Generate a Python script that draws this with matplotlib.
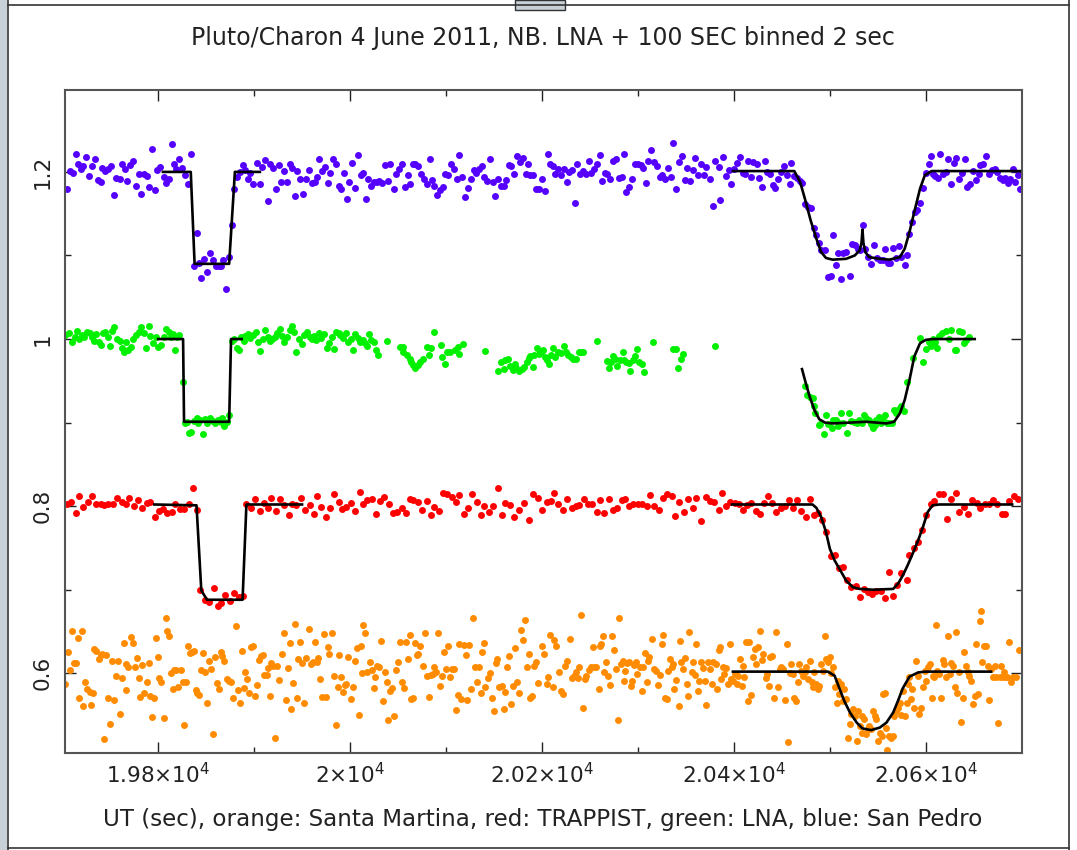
import numpy as np
import matplotlib
matplotlib.use("Agg")
import matplotlib.pyplot as plt
from matplotlib.patches import Rectangle
from matplotlib.lines import Line2D

# observed points: (UT seconds, normalised flux x 1000)
blue_obs = [
    (19705,1180),(19708,1201),(19711,1199),(19714,1221),(19717,1210),(19720,1203),(19722,1207),(19725,1218),(19728,1195),(19731,1207),
    (19734,1215),(19737,1190),(19740,1188),(19742,1205),(19745,1201),(19748,1204),(19751,1207),(19754,1172),(19756,1193),(19760,1192),
    (19762,1209),(19765,1203),(19768,1189),(19771,1208),(19774,1213),(19777,1183),(19780,1197),(19782,1174),(19785,1198),(19788,1195),
    (19791,1182),(19794,1228),(19797,1178),(19799,1202),(19802,1206),(19806,1194),(19808,1187),(19811,1191),(19814,1233),(19817,1210),
    (19819,1203),(19822,1216),(19825,1205),(19828,1196),(19831,1186),(19834,1221),
    (19837,1087),(19840,1127),(19843,1091),(19845,1073),(19848,1096),(19851,1080),(19854,1103),(19857,1095),(19860,1087),(19863,1087),
    (19866,1087),(19868,1094),(19871,1060),(19874,1098),(19877,1136),(19879,1179),(19882,1194),(19885,1200),(19888,1208),(19891,1202),
    (19894,1191),(19896,1199),(19899,1185),(19903,1211),(19906,1185),(19908,1206),(19911,1214),(19914,1165),(19917,1209),(19920,1205),
    (19923,1180),(19926,1208),(19928,1188),(19931,1201),(19934,1188),(19937,1209),(19940,1205),(19943,1171),(19945,1201),(19948,1191),
    (19951,1173),(19954,1191),(19957,1202),(19960,1187),(19963,1188),(19966,1194),(19968,1216),(19971,1201),(19974,1206),(19977,1187),
    (19979,1199),(19982,1216),(19985,1209),(19988,1183),(19991,1179),(19994,1199),(19997,1168),(19999,1188),(20002,1211),(20005,1181),
    (20008,1220),(20011,1196),(20014,1199),(20017,1167),(20019,1192),(20022,1183),(20025,1188),(20028,1188),(20030,1189),(20033,1187),
    (20036,1208),(20040,1189),
    (20042,1210),(20046,1179),(20048,1198),(20051,1203),(20054,1210),(20057,1182),(20060,1196),(20063,1185),(20066,1210),(20068,1209),
    (20071,1207),(20074,1197),(20077,1192),(20080,1186),(20083,1215),(20085,1190),(20088,1183),(20091,1172),(20094,1178),(20097,1182),
    (20099,1198),(20102,1196),(20105,1209),(20108,1204),(20111,1191),(20114,1220),(20117,1194),(20120,1170),(20123,1181),(20126,1191),
    (20129,1202),(20131,1199),(20134,1203),(20137,1207),(20140,1194),(20143,1189),(20146,1216),(20149,1188),(20151,1171),(20154,1191),
    (20157,1183),(20160,1183),(20163,1190),(20166,1208),(20168,1207),(20171,1197),(20174,1219),(20177,1212),(20180,1217),(20183,1198),
    (20185,1210),(20188,1196),(20191,1196),(20194,1180),(20197,1179),(20200,1192),(20203,1177),(20206,1222),(20208,1210),(20211,1207),
    (20214,1197),(20217,1203),(20220,1196),(20223,1203),(20226,1188),(20228,1200),(20231,1202),(20234,1163),(20237,1210),(20240,1198),
    (20243,1201),(20246,1197),(20249,1213),(20251,1199),(20254,1203),(20257,1210),(20260,1220),(20263,1189),(20266,1199),(20268,1198),
    (20271,1191),(20274,1213),(20277,1216),(20280,1193),(20283,1194),(20285,1221),(20288,1176),(20291,1182),(20294,1192),(20297,1210),
    (20300,1210),(20303,1208),(20305,1205),(20308,1187),(20311,1213),(20314,1226),(20317,1212),(20320,1207),(20323,1194),(20325,1196),
    (20328,1192),(20331,1205),(20334,1194),(20337,1234),(20340,1179),(20343,1212),(20346,1219),(20349,1190),(20351,1205),(20354,1189),
    (20357,1202),(20360,1217),(20363,1196),(20366,1209),
    (20369,1196),(20371,1206),(20375,1192),(20378,1159),(20380,1213),(20384,1206),(20386,1166),(20389,1218),(20392,1195),(20395,1202),
    (20397,1185),(20400,1204),(20403,1211),(20406,1218),(20409,1199),(20412,1198),(20415,1213),(20418,1194),(20420,1212),(20424,1210),
    (20426,1193),(20429,1182),(20432,1213),(20435,1200),(20438,1197),(20441,1184),(20443,1181),(20446,1191),(20449,1200),(20452,1207),
    (20455,1196),(20458,1186),(20460,1211),(20463,1195),(20466,1193),(20469,1189),(20471,1187),(20474,1161),(20477,1158),(20480,1157),
    (20483,1133),(20486,1124),(20489,1115),(20491,1107),(20495,1106),(20498,1074),(20501,1076),(20503,1124),(20506,1088),(20509,1103),
    (20512,1072),(20514,1103),(20517,1104),(20521,1076),(20523,1114),(20526,1112),(20529,1108),(20531,1106),(20535,1137),(20537,1108),
    (20540,1098),(20543,1090),(20546,1113),(20549,1097),(20552,1094),(20555,1094),(20558,1108),(20561,1091),(20563,1091),(20566,1109),
    (20569,1097),(20572,1111),(20574,1098),(20578,1089),(20580,1101),(20583,1126),(20586,1140),(20589,1152),(20591,1155),(20594,1163),
    (20597,1181),(20600,1199),(20603,1210),(20605,1219),(20607,1198),(20610,1195),(20613,1193),(20615,1221),(20618,1198),(20621,1200),
    (20623,1216),(20626,1185),(20629,1211),(20632,1217),(20635,1191),(20638,1199),(20641,1215),(20643,1182),(20646,1186),(20649,1201),
    (20652,1190),(20655,1198),(20657,1208),(20660,1210),(20663,1219),(20666,1198),(20669,1202),(20672,1204),(20674,1200),(20677,1193),
    (20680,1190),(20683,1193),(20686,1187),(20688,1192),(20691,1203),(20693,1188),(20696,1196),(20698,1179),
]

green_obs = [
    (19703,1005),(19707,1007),(19710,996),(19713,1002),(19715,1010),(19718,1000),(19721,1005),(19723,1002),(19726,1009),(19729,1007),
    (19731,1003),(19733,998),(19735,1006),(19738,996),(19740,993),(19743,1007),(19745,1009),(19748,1002),(19750,992),(19752,1010),
    (19754,1014),(19757,1000),(19760,998),(19762,989),(19764,985),(19767,997),(19769,987),(19772,990),(19774,1000),(19777,1005),
    (19780,1008),(19782,1015),(19785,1007),(19787,989),(19790,1016),(19792,1004),(19795,995),(19798,1003),(19800,991),(19803,993),
    (19806,1003),(19808,1012),(19811,1009),(19813,1002),(19816,1006),(19818,987),(19820,1002),(19822,1005),(19826,948),
    (19828,899),(19830,901),(19832,888),(19834,889),(19837,902),(19840,906),(19842,900),(19844,903),(19847,886),(19849,904),
    (19851,899),(19854,906),(19857,902),(19859,899),(19862,903),(19865,901),(19867,905),(19869,896),(19872,901),(19874,909),
    (19877,998),(19879,1000),(19882,989),(19884,987),(19886,1003),(19889,998),(19891,1004),(19894,1006),(19896,1001),(19899,1005),
    (19902,1008),(19904,996),(19906,986),(19909,1000),(19911,1011),(19914,1003),(19917,998),(19919,1000),(19922,1002),(19924,1007),
    (19927,1012),(19929,1004),(19931,996),(19934,1002),(19937,1011),(19939,1016),(19942,1009),(19944,984),(19947,1000),(19950,994),
    (19952,1005),(19955,1009),(19958,1002),(19960,1000),(19962,1004),(19965,999),(19968,1007),(19970,1001),(19973,1006),(19976,989),
    (19978,995),(19981,1003),(19983,988),(19985,1009),(19988,1007),(19990,1005),(19993,1001),(19996,1007),(19998,997),(20001,1000),
    (20003,987),(20005,1006),(20008,1001),(20010,997),(20013,999),(20016,995),(20018,992),(20020,1006),(20022,999),(20025,996),
    (20027,987),(20029,981),(20038,998),
    (20052,991),(20055,984),(20055,990),(20059,981),(20062,976),(20064,973),(20066,969),(20068,965),(20071,969),(20073,973),
    (20076,976),(20080,991),(20082,981),(20084,989),(20087,1009),(20095,993),(20096,978),(20099,970),(20101,985),(20104,984),
    (20109,987),(20112,991),(20114,982),(20118,994),(20141,986),(20154,962),(20157,973),(20160,964),(20162,975),(20165,976),
    (20167,968),(20170,963),(20172,970),(20173,965),(20176,962),(20179,964),(20181,967),(20184,973),(20186,977),(20188,980),
    (20191,967),(20192,981),(20195,989),(20197,982),(20199,985),(20201,987),(20203,979),(20205,975),(20207,970),(20209,981),
    (20211,989),(20214,978),(20217,985),(20220,983),(20223,992),(20225,985),(20227,981),(20230,978),(20232,976),(20235,976),
    (20239,984),(20241,985),(20243,985),(20257,998),(20268,974),(20270,965),(20272,973),(20274,980),(20276,976),(20278,968),
    (20281,975),(20284,985),(20286,975),(20288,972),(20291,971),(20292,962),(20295,975),(20297,980),(20299,988),(20301,972),
    (20304,970),(20306,961),(20316,997),(20337,988),(20340,988),(20342,965),(20345,976),(20347,982),(20380,992),
    (20474,944),(20476,933),(20479,931),(20482,929),(20483,920),(20485,911),(20489,897),(20490,898),(20494,886),(20496,909),
    (20498,898),(20502,893),(20503,903),(20506,903),(20508,896),(20510,899),(20512,912),(20514,900),(20518,887),(20520,912),
    (20522,902),(20525,901),(20528,900),(20530,903),(20533,900),(20536,909),(20538,905),(20541,903),(20543,898),(20545,894),
    (20547,897),(20548,903),(20551,907),(20553,900),(20555,903),(20557,909),(20560,899),(20562,899),(20565,900),(20567,915),
    (20569,911),(20572,916),(20574,920),(20577,914),(20580,949),(20587,977),(20594,1001),(20597,972),(20600,988),(20603,997),
    (20605,992),(20607,1000),(20610,996),(20612,989),(20614,1004),(20617,1007),(20621,1010),(20624,1000),(20626,1011),(20630,987),
    (20632,987),(20635,1010),(20638,1009),(20640,995),(20642,999),(20645,1002),
]

red_obs = [
    (19705,802),(19709,805),(19714,792),(19718,812),(19722,799),(19727,805),(19731,812),(19735,802),(19740,802),(19744,801),
    (19748,802),(19753,802),(19757,810),(19762,805),(19766,802),(19770,810),(19775,800),(19779,807),(19783,798),(19788,804),
    (19792,805),(19797,787),(19801,794),(19805,797),(19809,792),(19814,793),(19818,803),(19823,797),(19827,797),(19832,803),
    (19836,822),(19840,796),(19844,700),(19849,688),(19853,685),(19858,702),(19862,681),(19866,684),(19870,694),(19875,687),
    (19879,696),(19884,691),(19888,692),(19892,802),(19897,798),(19901,808),(19906,794),(19910,804),(19914,798),(19918,810),
    (19923,794),(19927,808),(19931,801),(19936,790),(19940,803),(19944,801),(19949,810),(19953,795),(19958,801),(19962,791),
    (19966,812),(19970,799),(19975,787),(19979,798),(19983,814),(19988,805),(19992,797),(19996,799),(20001,804),(20005,794),
    (20010,817),(20014,802),(20018,807),(20023,809),(20027,791),(20031,806),(20035,811),
    (20041,802),(20045,792),(20049,793),(20054,798),(20058,792),(20062,809),(20066,807),(20071,805),(20075,796),(20080,806),
    (20084,790),(20088,799),(20093,794),(20097,816),(20101,815),(20106,811),(20110,805),(20114,813),(20119,791),(20123,798),
    (20127,814),(20132,805),(20136,790),(20140,800),(20145,793),(20149,800),(20154,822),(20158,790),(20162,804),(20167,801),
    (20171,787),(20176,795),(20181,804),(20186,784),(20191,815),(20196,810),(20200,796),(20205,805),(20209,806),(20213,816),
    (20217,802),(20222,795),(20226,808),(20231,798),(20235,800),(20239,801),(20244,808),(20248,802),(20252,802),(20257,793),
    (20261,807),(20265,792),(20270,809),(20274,796),(20278,798),(20283,807),(20287,809),(20291,800),(20295,802),(20300,803),
    (20304,803),(20309,800),(20313,813),(20317,800),(20322,796),(20326,810),(20330,815),(20335,812),(20339,788),(20343,805),
    (20348,793),(20352,808),(20357,798),(20361,810),
    (20366,782),(20371,811),(20375,806),(20379,805),(20384,795),(20388,816),(20392,800),(20396,805),(20401,804),(20405,802),
    (20410,796),(20414,801),(20418,804),(20423,794),(20427,791),(20431,804),(20436,812),(20440,804),(20444,793),(20449,798),
    (20453,800),(20457,807),(20462,798),(20466,807),(20470,794),(20475,787),(20479,809),(20484,789),(20488,792),(20492,784),
    (20496,769),(20501,740),(20505,741),(20510,726),(20514,727),(20518,712),(20522,703),(20527,704),(20531,691),(20536,701),
    (20540,697),(20544,695),(20548,699),(20553,699),(20557,690),(20562,721),(20566,692),(20570,706),(20574,720),(20580,712),
    (20583,741),(20588,750),(20592,757),(20596,771),(20600,790),(20605,802),(20609,806),(20614,815),(20618,815),(20622,785),
    (20626,809),(20631,816),(20635,793),(20640,799),(20644,791),(20648,807),(20653,804),(20657,798),(20662,803),(20666,803),
    (20670,807),(20674,802),(20679,791),(20683,791),(20687,806),(20692,812),(20696,809),
]

orange_obs = [
    (19703,587),(19706,625),(19708,604),(19710,651),(19712,612),(19714,612),(19716,642),(19718,571),(19721,651),(19722,561),
    (19724,590),(19726,581),(19729,578),(19730,562),(19732,576),(19733,629),(19735,627),(19738,617),(19740,622),(19742,623),
    (19744,521),(19746,622),(19748,570),(19750,539),(19752,615),(19754,568),(19756,597),(19758,615),(19760,551),(19762,594),
    (19764,636),(19766,611),(19767,580),(19769,608),(19772,644),(19774,636),(19776,607),(19778,618),(19780,594),(19781,572),
    (19783,610),(19785,577),(19788,589),(19790,612),(19792,573),(19794,548),(19796,571),(19798,642),(19800,619),(19801,594),
    (19803,590),(19806,547),(19808,666),(19809,651),(19811,645),(19813,600),(19815,581),(19817,604),(19819,604),(19821,583),
    (19824,604),(19826,590),(19827,538),(19829,590),(19831,633),(19833,624),(19835,626),(19837,627),(19839,580),(19841,577),
    (19843,574),(19845,604),(19847,624),(19849,601),(19851,565),(19853,615),(19855,605),(19857,527),(19859,620),(19861,588),
    (19863,581),(19865,626),(19867,621),(19869,615),(19872,593),(19874,591),(19876,590),(19878,571),(19881,656),(19883,580),
    (19885,564),(19887,627),(19889,582),(19891,602),(19893,593),(19895,577),(19897,631),(19899,633),(19901,573),(19903,586),
    (19905,616),(19907,621),(19909,622),(19910,598),(19913,598),(19915,606),(19917,573),(19918,612),(19920,609),(19922,522),
    (19924,609),(19926,592),(19929,623),(19931,648),(19933,568),(19935,606),(19937,636),(19938,557),(19941,588),(19943,659),
    (19945,570),(19946,617),(19948,637),(19950,612),(19952,565),(19954,618),(19957,653),(19959,611),(19961,613),(19963,637),
    (19966,614),(19967,618),(19969,593),(19971,572),(19973,647),(19975,572),(19977,632),(19978,623),(19981,648),(19983,597),
    (19985,538),(19987,583),(19989,622),(19991,596),(19993,578),(19995,586),(19996,587),(19998,619),(20001,569),(20003,583),
    (20005,615),(20007,630),(20009,550),(20011,633),(20012,600),(20014,658),(20016,648),(20018,602),(20021,613),(20023,604),
    (20025,582),(20026,596),(20028,609),(20030,608),(20032,639),(20034,567),(20036,601),(20038,590),(20040,544),(20042,579),
    (20044,582),(20046,549),(20048,604),(20050,613),(20052,637),(20054,590),(20056,582),(20058,638),(20060,617),(20062,646),
    (20064,569),(20066,571),(20068,636),(20070,622),(20071,623),(20073,633),(20076,609),(20078,648),(20080,597),(20082,572),
    (20084,598),(20086,599),(20088,607),(20090,602),(20092,648),(20094,585),(20096,597),(20098,625),(20100,605),(20102,633),
    (20104,595),(20106,605),(20108,605),(20110,556),(20112,574),(20114,635),(20116,569),(20119,634),(20121,622),(20122,568),
    (20124,634),(20126,581),(20128,666),(20130,607),(20132,590),(20134,608),(20136,576),(20138,625),(20140,636),(20141,584),
    (20144,594),(20146,600),(20148,571),(20150,555),(20152,612),(20153,617),(20155,584),(20158,585),(20160,557),(20162,578),
    (20164,607),(20166,621),(20168,563),(20170,585),(20172,630),(20174,590),(20176,576),(20178,652),(20180,640),(20182,664),
    (20184,607),(20186,623),(20188,571),(20190,573),(20192,609),(20194,614),(20196,588),
    (20200,633),(20202,623),(20205,587),(20206,595),(20208,646),(20211,583),(20213,640),(20215,633),(20218,601),(20220,579),
    (20222,575),(20224,609),(20226,615),(20229,641),(20231,594),(20233,597),(20235,601),(20238,594),(20239,607),(20241,670),
    (20243,559),(20245,593),(20246,597),(20249,604),(20251,607),(20253,632),(20254,607),(20256,608),(20259,581),(20260,633),
    (20262,635),(20264,645),(20265,601),(20267,614),(20269,597),(20271,586),(20273,645),(20275,628),(20277,605),(20279,544),
    (20280,666),(20282,611),(20284,615),(20286,591),(20287,603),(20289,612),(20291,614),(20293,585),(20294,591),(20296,610),
    (20298,613),(20299,599),(20302,607),(20304,579),(20305,608),(20307,624),(20309,589),(20311,615),(20312,619),(20315,641),
    (20317,605),(20319,603),(20321,586),(20323,598),(20325,635),(20326,646),(20328,571),(20330,569),(20331,603),(20333,617),
    (20335,608),(20337,611),(20338,581),(20340,592),(20343,561),(20344,639),(20345,614),(20347,605),(20349,618),(20351,587),
    (20352,573),(20353,650),(20356,601),(20357,614),(20359,598),(20361,635),(20363,579),(20364,591),(20366,614),(20368,606),
    (20370,591),(20371,562),(20373,613),(20375,605),(20377,587),(20378,614),(20381,611),(20382,581),(20384,628),(20386,631),
    (20387,593),(20389,607),(20390,599),(20392,606),(20394,587),(20396,635),(20397,593),(20399,591),(20401,599),(20403,587),
    (20404,597),(20406,617),(20408,585),(20410,609),(20411,595),(20413,637),(20415,567),(20416,637),(20418,574),(20420,620),
    (20422,629),(20423,611),(20425,631),(20427,651),(20429,616),(20430,623),(20433,594),(20434,599),(20437,585),(20438,619),
    (20440,621),(20442,570),(20444,650),(20446,583),(20448,605),(20449,607),(20451,605),(20453,568),(20455,635),(20456,518),
    (20458,600),(20460,611),(20462,599),(20463,570),(20465,567),(20467,589),(20468,611),(20470,603),(20472,597),(20474,601),
    (20475,607),(20477,593),(20479,615),(20481,589),(20482,583),(20484,601),(20486,587),(20488,581),(20489,585),(20491,611),
    (20493,603),(20495,645),(20496,617),(20498,613),(20500,620),(20501,600),(20503,607),(20505,583),(20507,565),(20508,591),
    (20510,575),(20512,587),(20514,567),(20515,581),(20517,569),(20519,523),(20521,539),(20522,551),(20524,557),(20526,549),
    (20528,519),(20529,555),(20531,537),(20533,549),(20534,529),(20536,545),(20538,527),(20540,533),(20541,537),(20543,533),
    (20545,555),(20547,549),(20548,545),(20550,519),(20552,529),(20554,525),(20555,575),(20557,577),(20559,534),(20560,508),
    (20562,525),(20564,523),(20566,525),(20567,549),(20569,555),(20571,559),(20573,565),(20574,550),(20576,579),(20578,549),
    (20580,565),(20581,587),(20583,596),(20585,569),(20586,581),(20588,559),(20590,615),(20592,597),(20593,551),(20595,559),
    (20597,583),(20599,603),(20600,591),(20602,607),(20604,611),(20606,571),(20607,597),(20609,595),(20611,658),(20612,603),
    (20614,599),(20616,571),(20618,616),(20619,611),(20621,595),(20623,645),(20625,599),(20626,612),(20628,609),(20630,583),
    (20632,649),(20633,577),(20635,601),(20637,542),(20639,571),(20640,625),(20642,609),(20644,601),(20645,597),(20647,591),
    (20649,563),(20651,573),(20652,635),(20654,575),(20656,663),(20658,675),(20659,613),(20661,633),(20663,633),(20665,609),
    (20666,568),(20668,605),(20670,596),(20672,609),(20673,596),(20675,540),(20677,596),(20678,609),(20680,596),(20682,601),
    (20684,595),(20685,596),(20687,637),(20689,589),(20691,596),(20694,595),(20697,628),
]

# fitted light-curve models (knots)
blue_fit_1 = [(19805,1200),(19834,1200),(19838,1090),(19874,1090),(19880,1200),(19906,1200)]
blue_fit_2 = [(20399,1201),(20463,1201),(20469,1188),(20474,1168),(20480,1142),(20486,1120),(20491,1104),(20496,1097),
              (20503,1095),(20517,1096),(20526,1100),(20531,1106),(20533,1115),(20534,1131),(20535,1115),(20537,1104),
              (20541,1098),(20552,1096),(20562,1095),(20573,1098),(20578,1108),(20583,1128),(20588,1152),(20594,1180),
              (20599,1196),(20606,1201),(20698,1201)]
green_fit_1 = [(19800,1000),(19826,1000),(19827,901),(19874,901),(19876,1000),(19887,1000)]
green_fit_2 = [(20471,964),(20475,947),(20479,931),(20484,915),(20489,904),(20495,900),(20503,899),(20521,900),
               (20538,901),(20559,899),(20567,901),(20573,911),(20578,927),(20583,951),(20588,979),(20594,995),
               (20600,999),(20607,1000),(20651,1000)]
red_fit_1 = [(19796,802),(19840,801),(19845,699),(19851,688),(19888,688),(19892,802),(19950,802)]
red_fit_2 = [(20398,802),(20482,802),(20486,798),(20491,787),(20496,769),(20500,749),(20505,735),(20510,725),
             (20517,711),(20524,703),(20531,701),(20545,700),(20566,701),(20571,707),(20576,717),(20581,729),
             (20587,745),(20592,759),(20597,775),(20602,793),(20607,801),(20614,802),(20690,802)]
orange_fit = [(20399,602),(20498,602),(20505,597),(20510,582),(20515,567),(20521,553),(20528,541),(20534,534),
              (20543,532),(20552,535),(20559,541),(20566,553),(20571,567),(20576,582),(20583,596),(20592,601),
              (20599,602),(20668,602)]

x_ticks = [19800, 20000, 20200, 20400, 20600]
x_tick_labels = [r'$1.98{\times}10^{4}$', r'$2{\times}10^{4}$', r'$2.02{\times}10^{4}$',
                 r'$2.04{\times}10^{4}$', r'$2.06{\times}10^{4}$']
y_ticks = [0.6, 0.8, 1.0, 1.2]
y_tick_labels = ['0.6', '0.8', '1', '1.2']

series = [
    (orange_obs, '#ff8c00', [orange_fit]),
    (red_obs, '#ff0000', [red_fit_1, red_fit_2]),
    (green_obs, '#00f000', [green_fit_1, green_fit_2]),
    (blue_obs, '#5500ff', [blue_fit_1, blue_fit_2]),
]

fig = plt.figure(figsize=(10.77, 8.5), dpi=100)
ax = fig.add_axes([0.0604, 0.1145, 0.8883, 0.7796])

for obs, col, fits in series:
    t, f = np.array(obs, dtype=float).T
    ax.plot(t, f / 1000.0, 'o', color=col, ms=5, mew=0, zorder=2)
    for fit in fits:
        ft, ff = np.array(fit, dtype=float).T
        ax.plot(ft, ff / 1000.0, '-', color='black', lw=1.9, zorder=3)

ax.set_xlim(19703, 20700)
ax.set_ylim(0.505, 1.298)

ax.set_xticks(x_ticks)
ax.set_xticklabels(x_tick_labels, fontsize=15.5, color='#222222')
ax.set_xticks(np.arange(19800, 20700, 100), minor=True)
ax.set_yticks(y_ticks)
ax.set_yticklabels(y_tick_labels, fontsize=15.5, rotation=90, va='center', color='#222222')
ax.set_yticks([0.7, 0.9, 1.1], minor=True)
ax.tick_params(which='both', direction='in', top=True, right=True, color='#222222', width=1)
ax.tick_params(which='major', length=8)
ax.tick_params(which='minor', length=4.5)
ax.tick_params(axis='x', which='major', pad=7)
ax.tick_params(axis='y', which='major', pad=9)
for sp in ax.spines.values():
    sp.set_color('#555555')
    sp.set_linewidth(1.5)

fig.text(0.5043, 0.955, 'Pluto/Charon 4 June 2011, NB. LNA + 100 SEC binned 2 sec',
         ha='center', va='center', fontsize=17, color='#222222')
fig.text(0.5035, 0.0353, 'UT (sec), orange: Santa Martina, red: TRAPPIST, green: LNA, blue: San Pedro',
         ha='center', va='center', fontsize=16.6, color='#222222')

# window frame around the plot
W, H = 1077.0, 850.0
fig.add_artist(Rectangle((0, 0), 7 / W, 1, transform=fig.transFigure, color='#c8d0d8', lw=0, zorder=0))
fig.add_artist(Rectangle((515 / W, 1 - 10 / H), 50 / W, 10 / H, transform=fig.transFigure,
                         facecolor='#c8d0d8', edgecolor='#333333', lw=1, zorder=0))
for xs, ys in [([7.5 / W, 7.5 / W], [0, 1]), ([7.5 / W, 1069 / W], [1 - 4.5 / H, 1 - 4.5 / H]),
               ([7.5 / W, 1069 / W], [2 / H, 2 / H]), ([1069 / W, 1069 / W], [0, 1])]:
    fig.add_artist(Line2D(xs, ys, transform=fig.transFigure, color='#333333', lw=1.2))

fig.savefig('out.png', dpi=100)
